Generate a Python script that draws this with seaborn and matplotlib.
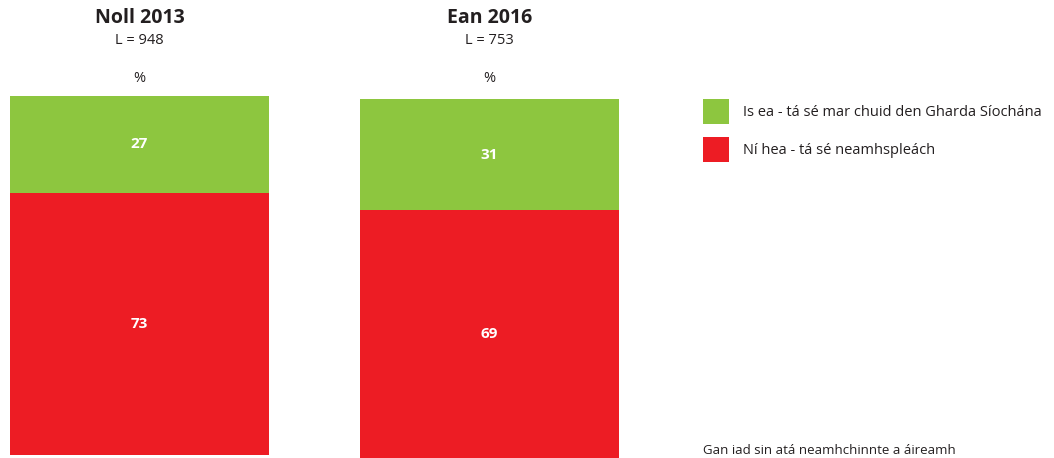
import matplotlib
matplotlib.use("Agg")
import matplotlib.pyplot as plt
import seaborn as sns
from matplotlib.patches import Patch

sns.set_theme(style="white")
plt.rcParams['font.family'] = ['Open Sans', 'DejaVu Sans']

periods = ["Noll 2013", "Ean 2016"]
bases = ["L = 948", "L = 753"]
yes_vals = [27, 31]
no_vals = [73, 69]
series_names = ["Is ea - tá sé mar chuid den Gharda Síochána", "Ní hea - tá sé neamhspleách"]
footnote = "Gan iad sin atá neamhchinnte a áireamh"

GREEN = "#8DC63F"
RED = "#ED1C24"
TXT = "#231F20"

W, H = 1054, 458
fig = plt.figure(figsize=(W / 100, H / 100), dpi=100)

# axes placements in pixels: (left, top, width, height)
boxes = [(10, 96, 259, 359), (360, 99, 259, 359)]

for i, (p, b, y, n) in enumerate(zip(periods, bases, yes_vals, no_vals)):
    l, t, w, h = boxes[i]
    ax = fig.add_axes([l / W, 1 - (t + h) / H, w / W, h / H])
    tot = y + n
    sns.barplot(x=[p], y=[tot], color=GREEN, width=1.0, ax=ax, saturation=1, linewidth=0)
    sns.barplot(x=[p], y=[n], color=RED, width=1.0, ax=ax, saturation=1, linewidth=0)
    ax.set_xlim(-0.5, 0.5)
    ax.set_ylim(0, tot)
    ax.axis("off")
    ax.text(0, n / 2, str(n), ha="center", va="center", color="white",
            fontsize=11, fontweight="bold")
    ax.text(0, n + y / 2, str(y), ha="center", va="center", color="white",
            fontsize=11, fontweight="bold")
    cx = (l + w / 2) / W
    fig.text(cx, 1 - 18 / H, p, ha="center", va="center", fontsize=14,
             fontweight="bold", color=TXT)
    fig.text(cx, 1 - 41 / H, b, ha="center", va="center", fontsize=10.5, color=TXT)
    fig.text(cx, 1 - 78 / H, "%", ha="center", va="center", fontsize=10.5, color=TXT)

handles = [Patch(facecolor=GREEN, edgecolor="none"), Patch(facecolor=RED, edgecolor="none")]
fig.legend(handles, series_names, loc="upper left",
           bbox_to_anchor=(703 / W, 1 - 99 / H), frameon=False, borderpad=0,
           borderaxespad=0, fontsize=10.5, handlelength=1.75, handleheight=2.3,
           handletextpad=1.0, labelspacing=0.85, labelcolor=TXT)

fig.text(703 / W, 1 - 450 / H, footnote, ha="left", va="center", fontsize=9.5, color=TXT)

fig.savefig("out.png", dpi=100)
